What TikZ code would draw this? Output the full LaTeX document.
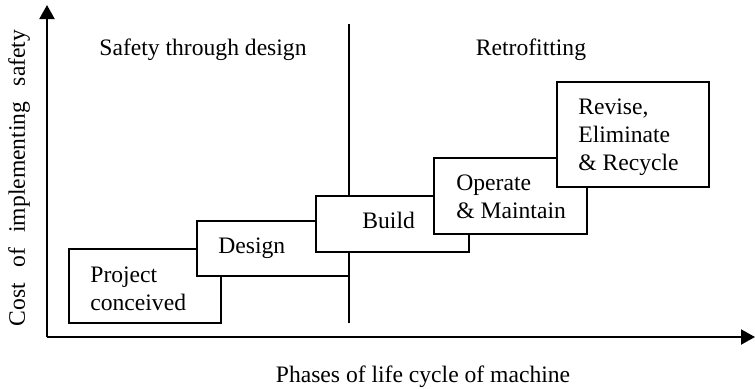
\documentclass[tikz,border=0pt]{standalone}
\usepackage{fontspec}
\setmainfont{Liberation Serif}
\usetikzlibrary{arrows.meta}
\begin{document}
\begin{tikzpicture}[x=0.5pt,y=-0.5pt,
  every node/.style={font=\fontsize{11.8}{14}\selectfont},
  box/.style={draw,line width=1pt,fill=white,anchor=north west,inner sep=0pt,outer sep=0pt},
  lbl/.style={anchor=base west,inner sep=0pt,align=left},
  axis/.style={line width=1pt,-{Triangle[length=7pt,width=7.5pt]}}]
\useasboundingbox (0,0) rectangle (755,388);
% axes
\coordinate (o) at (47,337);
\coordinate (ytop) at (47,5);
\coordinate (xend) at (755,337);
\draw[axis] (o) -- (ytop);
\draw[axis] (o) -- (xend);
% boxes
\node[box,minimum width=76pt,minimum height=37pt] (pc) at (69,249) {};
\node[box,minimum width=76pt,minimum height=27.5pt] (ds) at (197,221) {};
\coordinate (dtop) at (349,24);
\coordinate (dbot) at (349,323);
\draw[line width=1pt] (dtop) -- (dbot);
\node[box,minimum width=76.5pt,minimum height=28pt] (bd) at (316,196) {};
\node[box,minimum width=76.5pt,minimum height=38pt] (om) at (434,158) {};
\node[box,minimum width=76pt,minimum height=52.5pt] (re) at (557,82) {};
% texts (base = baseline of last line)
\node[lbl] (tpc) at (90,310) {Project\\conceived};
\node[lbl] (tds) at (218,253) {Design};
\node[lbl] (tbd) at (362,228) {Build};
\node[lbl] (tom) at (456,218) {Operate\\\& Maintain};
\node[lbl] (tre) at (578,170) {Revise,\\Eliminate\\\& Recycle};
\node[anchor=base,inner sep=0pt] (std) at (203,55) {Safety through design};
\node[anchor=base,inner sep=0pt] (rf) at (531,55) {Retrofitting};
\node[anchor=base,inner sep=0pt] (xl) at (423,382) {Phases of life cycle of machine};
\node[anchor=base,inner sep=0pt,rotate=90] (yl) at (25,178) {Cost\hspace{0.65em}of\hspace{0.65em}implementing\hspace{0.65em}safety};
\end{tikzpicture}
\end{document}
